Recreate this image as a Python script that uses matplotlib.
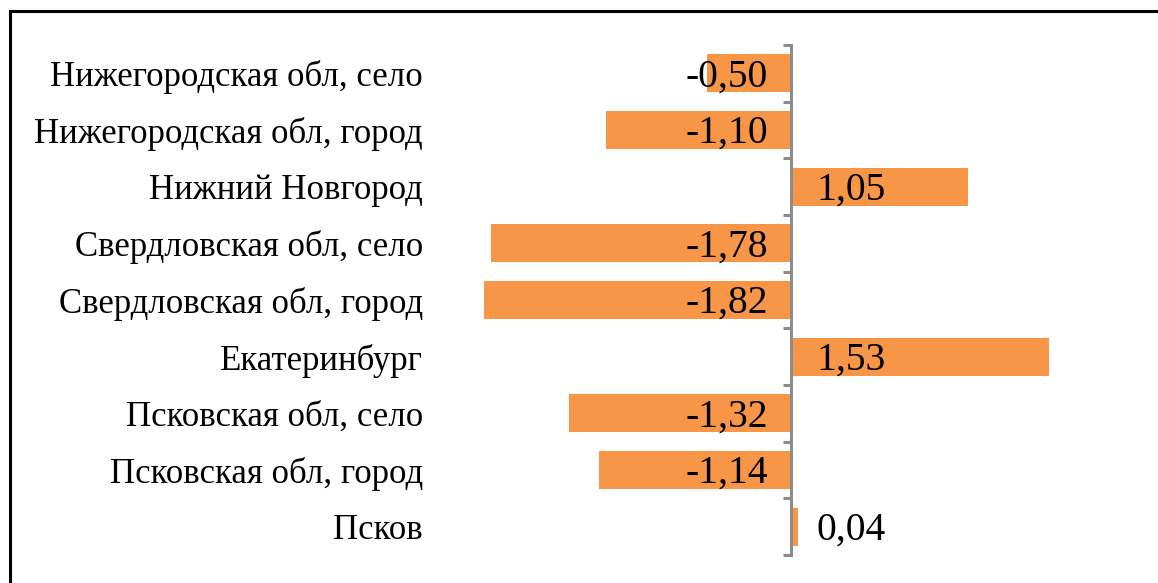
import matplotlib.pyplot as plt
from matplotlib.patches import Rectangle

plt.rcParams['font.family'] = ['Liberation Serif', 'DejaVu Serif']

categories = ['Нижегородская обл, село', 'Нижегородская обл, город', 'Нижний Новгород',
              'Свердловская обл, село', 'Свердловская обл, город', 'Екатеринбург',
              'Псковская обл, село', 'Псковская обл, город', 'Псков']
values = [-0.50, -1.10, 1.05, -1.78, -1.82, 1.53, -1.32, -1.14, 0.04]

W, H = 1158, 583
fig = plt.figure(figsize=(W / 100, H / 100), dpi=100)

# axes placed in pixels: zero line at x=791, categories between y=45 and y=555
left_px, right_px = 440, 1140
top_px, bot_px = 45, 555
scale = 168.5  # px per unit
ax = fig.add_axes([left_px / W, (H - bot_px) / H, (right_px - left_px) / W, (bot_px - top_px) / H])
ax.set_xlim(-(791 - left_px) / scale, (right_px - 791) / scale)

pos = list(range(len(categories)))
ax.barh(pos, values, height=0.67, color='#F79646', zorder=2)
ax.set_ylim(len(categories) - 0.5, -0.5)

for s in ['top', 'right', 'bottom']:
    ax.spines[s].set_visible(False)
ax.spines['left'].set_position(('data', 0))
ax.spines['left'].set_color('#8c8c8c')
ax.spines['left'].set_linewidth(2.2)
ax.spines['left'].set_zorder(3)
ax.set_xticks([])

ax.set_yticks(pos)
ax.set_yticklabels(categories, fontsize=25)
ax.tick_params(axis='y', which='major', length=0, pad=(791 - 423) * 0.72)
ax.set_yticks([p - 0.5 for p in pos] + [len(pos) - 0.5], minor=True)
ax.tick_params(axis='y', which='minor', length=6, width=2.2, color='#8c8c8c', direction='out')

for p, v in zip(pos, values):
    txt = f'{v:.2f}'.replace('.', ',')
    if v < 0:
        ax.annotate(txt, (0, p), xytext=(-16.5, -2.5), textcoords='offset points',
                    ha='right', va='center', fontsize=28.5, zorder=4)
    else:
        ax.annotate(txt, (0, p), xytext=(18.5, -2.5), textcoords='offset points',
                    ha='left', va='center', fontsize=28.5, zorder=4)

# outer frame of the chart (right and bottom edges fall outside the picture)
fig.patches.append(Rectangle((9.5 / W, -0.05), 1.1, (H - 11) / H + 0.05, transform=fig.transFigure,
                             fill=False, edgecolor='black', linewidth=2.2, clip_on=False))

fig.savefig('out.png', dpi=100)
